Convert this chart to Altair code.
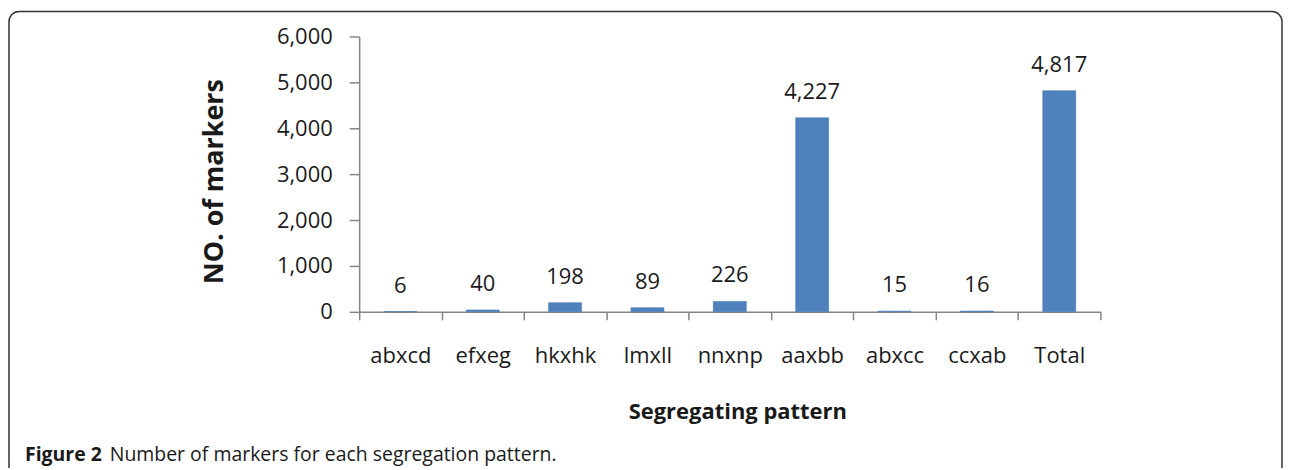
import altair as alt
import pandas as pd

# ---- data ----
patterns = ["abxcd", "efxeg", "hkxhk", "lmxll", "nnxnp", "aaxbb", "abxcc", "ccxab", "Total"]
counts = [6, 40, 198, 89, 226, 4227, 15, 16, 4817]
y_ticks = [0, 1000, 2000, 3000, 4000, 5000, 6000]
caption_bold = ["Figure 2"]
caption_rest = ["Number of markers for each segregation pattern."]

df = pd.DataFrame({"pattern": patterns, "count": counts})

FONT = "Open Sans"
TXT = "#1a1a1a"
AXC = "#868686"
W, H = 743, 276

x = alt.X(
    "pattern:N",
    sort=patterns,
    scale=alt.Scale(paddingInner=0, paddingOuter=0),
    axis=alt.Axis(
        title="Segregating pattern",
        labelAngle=0,
        tickBand="extent",
        tickSize=8,
        labelBaseline="alphabetic",
        labelPadding=43,
        titleFontWeight="bold",
        titleFontSize=22,
        titleBaseline="alphabetic",
        titleX=379,
        titleY=107,
    ),
)
y = alt.Y(
    "count:Q",
    scale=alt.Scale(domain=[0, 6000], nice=False),
    axis=alt.Axis(
        values=y_ticks,
        format=",.0f",
        title="NO. of markers",
        tickSize=10,
        labelPadding=17,
        grid=False,
        titleFontWeight="bold",
        titleFontSize=27,
        titleAngle=270,
        titleAlign="center",
        titleBaseline="alphabetic",
        titleX=-137,
        titleY=145,
    ),
)

bars = alt.Chart(df).mark_bar(
    width=alt.RelativeBandSize(0.4), color="#4F81BD", stroke="#4679B5", strokeWidth=0.6
).encode(x=x, y=y)

labels = alt.Chart(df).mark_text(
    dy=-19, baseline="alphabetic", fontSize=22, font=FONT, color=TXT
).encode(x=x, y=y, text=alt.Text("count:Q", format=","))

border = alt.Chart(pd.DataFrame({"k": [0]})).mark_rect(
    filled=False, stroke="#333333", strokeWidth=1.5, cornerRadius=10
).encode(x=alt.value(-351), x2=alt.value(925), y=alt.value(-25), y2=alt.value(480))

cap1 = alt.Chart(pd.DataFrame({"t": caption_bold})).mark_text(
    align="left", baseline="alphabetic", fontSize=19.5, fontWeight="bold", font=FONT, color=TXT
).encode(x=alt.value(-335), y=alt.value(426), text="t:N")

cap2 = alt.Chart(pd.DataFrame({"t": caption_rest})).mark_text(
    align="left", baseline="alphabetic", fontSize=19.5, font=FONT, color=TXT
).encode(x=alt.value(-250), y=alt.value(426), text="t:N")

chart = (
    alt.layer(border, bars, labels, cap1, cap2)
    .properties(
        width=W,
        height=H,
        autosize=alt.AutoSizeParams(type="none"),
        padding={"left": 352, "top": 28, "right": 184, "bottom": 156},
        background="white",
    )
    .configure_view(stroke="transparent")
    .configure_axis(
        labelFont=FONT,
        labelFontSize=22,
        labelColor=TXT,
        titleFont=FONT,
        titleColor=TXT,
        domainColor=AXC,
        domainWidth=1.5,
        tickColor=AXC,
        tickWidth=1.5,
    )
)

chart.save("out.html", embed_options={"renderer": "svg", "actions": False})
